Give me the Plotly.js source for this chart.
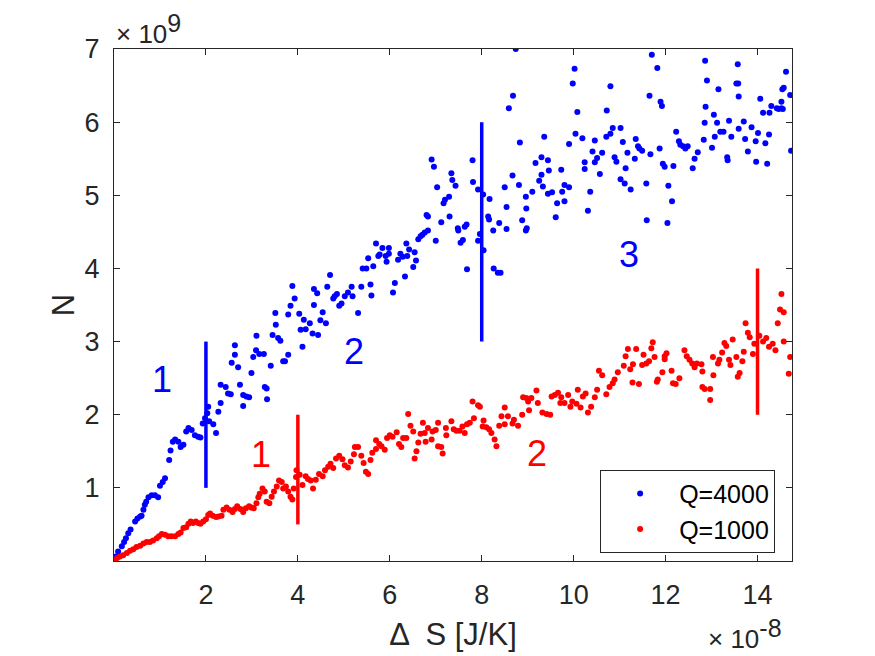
<!DOCTYPE html>
<html>
<head>
<meta charset="utf-8">
<script src="https://cdn.plot.ly/plotly-3.0.1.min.js"></script>
<style>
  html, body { margin: 0; padding: 0; background: #ffffff; }
  #chart { width: 875px; height: 656px; }
</style>
</head>
<body>
<div id="chart"></div>
<script>
// x in units of 1e-8 J/K, y in units of 1e9
const blueX = [0.00,0.04,0.09,0.17,0.22,0.26,0.31,0.36,0.46,0.51,0.57,0.60,0.64,0.67,0.70,0.75,0.82,0.89,0.96,1.00,
  1.06,1.11,1.20,1.23,1.28,1.33,1.40,1.45,1.51,1.57,1.62,1.69,1.76,1.83,1.88,1.93,1.98,2.03,2.07,2.16,
  2.22,2.27,2.05,2.32,2.32,2.43,2.48,2.54,2.56,2.63,2.63,2.70,2.74,2.81,2.81,2.88,2.94,2.99,3.03,3.09,
  3.10,3.16,3.26,3.28,3.32,3.33,3.41,3.45,3.51,3.52,3.57,3.62,3.68,3.72,3.79,3.79,3.84,3.88,3.93,4.03,
  4.06,4.10,4.13,4.17,4.26,4.32,4.35,4.35,4.42,4.44,4.49,4.54,4.61,4.64,4.70,4.77,4.80,4.85,4.90,4.95,
  5.02,5.09,5.17,5.19,5.31,5.38,5.41,5.49,5.53,5.58,5.60,5.64,5.70,5.75,5.78,5.84,5.91,5.93,5.98,5.98,
  6.07,6.11,6.18,6.23,6.28,6.33,6.36,6.38,6.42,6.51,6.54,6.57,6.62,6.67,6.71,6.76,6.83,6.80,6.83,6.91,
  6.96,7.00,7.03,7.12,7.17,7.20,7.29,7.30,7.34,7.36,7.43,7.48,7.49,7.54,7.59,7.63,7.67,7.68,7.80,7.81,
  7.92,7.92,7.96,8.03,8.04,8.14,8.17,8.16,8.25,8.26,8.35,8.41,8.38,8.50,8.54,8.54,8.67,8.81,8.88,8.96,
  8.97,8.96,8.98,9.10,9.17,9.25,9.30,9.33,9.44,9.44,8.74,8.68,8.59,8.83,9.36,10.02,9.98,10.08,10.04,9.90,
  9.46,9.73,9.30,9.80,9.75,9.90,9.64,9.80,9.61,9.53,10.19,10.24,10.24,10.31,10.36,10.41,10.46,10.46,10.51,10.57,
  10.62,10.71,10.72,10.80,10.80,10.85,10.89,10.93,11.02,11.02,11.07,11.11,11.13,11.17,11.24,11.33,11.35,11.40,11.43,11.49,
  11.58,11.59,11.65,11.67,11.70,11.82,11.87,11.89,11.92,11.94,11.98,12.04,12.06,12.14,12.17,12.23,12.29,12.32,12.38,12.43,
  12.48,12.59,12.63,12.70,12.83,12.85,12.86,12.90,12.87,13.01,13.05,13.07,13.12,13.15,13.19,13.26,13.34,13.35,13.38,13.43,
  13.54,13.58,13.57,13.59,13.59,13.70,13.73,13.79,13.87,13.96,13.97,14.01,14.06,14.12,14.17,14.21,14.25,14.26,14.30,14.42,
  14.46,14.52,14.55,14.52,14.54,14.57,14.62,14.71,14.73];
const blueY = [0.01,0.06,0.13,0.20,0.26,0.31,0.38,0.43,0.54,0.58,0.61,0.62,0.70,0.77,0.81,0.87,0.90,0.90,0.87,1.03,
  1.08,1.13,1.38,1.51,1.63,1.66,1.63,1.56,1.59,1.77,1.82,1.79,1.72,1.70,1.69,1.88,1.95,2.02,1.91,1.87,
  1.75,2.04,2.11,2.16,2.41,2.38,2.29,2.28,2.71,2.82,2.95,2.65,2.41,2.27,2.12,2.25,2.24,2.57,2.79,2.88,
  3.08,2.83,2.83,2.38,2.36,2.21,2.67,3.09,3.39,3.23,3.05,3.01,2.73,2.73,3.37,2.82,3.49,3.76,3.59,3.38,
  3.16,2.93,3.30,3.17,3.25,3.11,3.72,3.50,3.66,3.09,3.29,3.40,3.25,3.75,3.91,3.59,3.62,3.65,3.49,3.52,
  3.62,3.67,3.75,3.62,3.39,3.75,4.00,4.00,4.14,3.78,3.63,4.03,4.34,4.17,4.19,4.28,4.17,4.09,4.28,4.20,
  3.67,3.80,4.12,4.20,4.16,3.89,4.34,4.17,4.26,4.02,4.22,4.11,4.40,4.44,4.46,4.49,4.52,4.73,4.71,5.49,
  5.39,4.38,5.11,4.63,4.89,4.94,4.98,4.71,5.30,5.21,5.13,4.55,4.52,4.35,4.39,4.57,4.60,3.99,5.48,5.18,
  5.08,4.38,4.47,5.01,4.25,4.71,4.95,4.67,4.52,4.00,3.94,3.94,4.62,5.11,4.84,4.54,5.27,5.14,4.66,4.98,
  4.82,4.52,4.55,5.05,5.44,5.20,5.52,5.12,5.48,5.02,7.00,6.36,6.19,5.72,5.80,6.73,6.53,6.14,5.84,5.70,
  5.34,5.35,5.28,5.14,5.05,5.11,4.89,4.92,4.70,5.04,5.78,5.45,5.36,4.79,5.05,5.60,5.75,5.45,5.51,5.29,
  5.58,5.80,6.16,6.49,5.84,5.92,5.52,5.46,5.92,5.22,5.73,5.16,5.37,5.58,5.08,5.50,5.77,5.67,5.64,5.61,
  5.16,4.66,6.36,5.56,6.92,6.74,5.64,6.28,6.22,5.43,5.39,4.62,5.13,4.92,5.40,5.87,5.74,5.69,5.67,5.64,
  5.67,5.37,5.50,5.59,5.76,5.99,6.84,6.57,6.21,5.65,6.10,5.80,5.99,6.45,5.87,5.87,5.52,5.48,6.02,5.80,
  6.53,6.53,6.79,6.35,5.91,6.01,5.77,5.60,5.93,5.74,5.46,5.85,6.32,6.13,5.71,5.43,5.83,6.13,6.22,6.19,
  6.18,6.19,6.18,6.28,6.45,6.47,6.69,6.37,5.61];

const redX = [0.00,0.02,0.07,0.13,0.20,0.28,0.35,0.42,0.49,0.57,0.64,0.71,0.78,0.85,0.93,0.98,1.04,1.11,1.18,1.25,
  1.33,1.40,1.45,1.51,1.57,1.62,1.67,1.72,1.78,1.83,1.88,1.94,2.00,2.05,2.09,2.15,2.22,2.27,2.34,2.38,
  2.45,2.51,2.58,2.63,2.68,2.75,2.81,2.87,2.94,2.99,3.04,3.10,3.14,3.17,3.23,3.28,3.32,3.38,3.43,3.48,
  3.54,3.59,3.65,3.68,3.74,3.79,3.84,3.88,3.91,3.96,3.97,4.04,4.10,4.17,4.22,4.28,4.33,4.39,4.46,4.54,
  4.59,4.66,4.71,4.77,4.83,4.90,4.97,5.02,5.09,5.15,5.22,5.24,5.31,5.38,5.43,5.48,5.53,5.58,5.62,5.70,
  5.70,5.77,5.82,5.89,5.94,6.00,6.06,6.15,6.20,6.25,6.29,6.36,6.40,6.45,6.51,6.54,6.58,6.62,6.67,6.72,
  6.76,6.78,6.83,6.91,6.93,7.00,7.05,7.05,7.12,7.15,7.22,7.23,7.34,7.39,7.45,7.52,7.58,7.63,7.68,7.74,
  7.80,7.83,7.92,7.96,8.02,8.04,8.10,8.16,8.21,8.28,8.32,8.38,8.43,8.50,8.50,8.57,8.67,8.70,8.79,8.88,
  8.90,8.97,9.01,9.03,9.08,9.19,9.22,9.32,9.41,9.49,9.52,9.59,9.66,9.71,9.73,9.80,9.88,9.93,9.97,10.06,
  10.09,10.15,10.20,10.26,10.31,10.38,10.46,10.51,10.55,10.62,10.71,10.78,10.85,10.89,10.96,11.09,11.13,11.18,11.23,11.28,
  11.29,11.36,11.42,11.49,11.52,11.58,11.64,11.69,11.72,11.76,11.81,11.83,11.93,11.98,11.98,12.02,12.13,12.16,12.22,12.30,
  12.41,12.46,12.52,12.58,12.63,12.68,12.78,12.80,12.80,12.85,12.97,12.97,13.03,13.04,13.14,13.17,13.23,13.28,13.32,13.38,
  13.41,13.46,13.54,13.57,13.61,13.67,13.70,13.74,13.79,13.83,13.90,13.93,14.04,14.12,14.19,14.25,14.33,14.39,14.44,14.49,
  14.52,14.57,14.57,14.68,14.71];
const redY = [0.00,0.01,0.04,0.06,0.08,0.11,0.14,0.16,0.19,0.21,0.24,0.26,0.26,0.28,0.31,0.34,0.37,0.36,0.34,0.34,
  0.34,0.37,0.39,0.45,0.46,0.51,0.54,0.52,0.54,0.52,0.51,0.54,0.57,0.63,0.65,0.62,0.60,0.61,0.62,0.70,
  0.73,0.70,0.67,0.71,0.75,0.71,0.67,0.72,0.75,0.73,0.72,0.79,0.87,0.92,0.99,0.95,0.81,0.79,0.88,0.95,
  1.02,1.10,1.08,0.99,1.02,0.95,0.88,0.84,0.99,1.15,1.24,1.18,1.04,1.16,1.12,1.10,0.99,1.11,1.19,1.16,
  1.24,1.29,1.33,1.27,1.40,1.44,1.39,1.31,1.28,1.36,1.46,1.56,1.56,1.44,1.34,1.22,1.19,1.38,1.48,1.53,
  1.65,1.60,1.57,1.52,1.68,1.72,1.70,1.76,1.60,1.56,1.68,1.68,2.01,1.85,1.77,1.40,1.50,1.62,1.74,1.89,
  1.75,1.63,1.82,1.66,1.77,1.79,1.89,1.57,1.56,1.47,1.82,1.72,1.91,1.80,1.78,1.78,1.84,1.75,1.87,1.89,
  2.18,1.95,2.13,2.11,1.84,1.92,1.83,1.80,1.75,1.66,1.57,1.85,1.98,2.10,1.87,1.98,1.88,1.93,1.85,2.00,
  2.24,2.23,2.18,2.06,2.23,2.33,2.16,2.03,2.01,2.00,2.25,2.27,2.30,2.16,2.24,2.16,2.27,2.11,2.18,2.15,
  2.34,2.10,2.25,2.29,2.03,2.11,2.24,2.34,2.60,2.54,2.28,2.38,2.43,2.48,2.58,2.67,2.80,2.90,2.62,2.44,
  2.69,2.90,2.42,2.68,2.82,2.70,2.73,2.91,2.99,2.79,2.45,2.48,2.58,2.80,2.76,2.84,2.60,2.43,2.42,2.50,
  2.88,2.80,2.75,2.70,2.65,2.70,2.69,2.59,2.38,2.35,2.35,2.20,2.79,2.54,2.70,2.75,2.85,2.98,2.94,2.75,
  2.68,3.03,2.79,2.52,2.57,2.73,2.86,3.25,3.12,3.06,2.83,2.97,3.08,3.00,3.05,2.93,2.97,2.88,3.25,3.44,
  3.65,3.40,3.00,2.56,2.79];

// vertical region markers
const blueSegX = [2, 8];
const blueSegLo = [1, 3];
const blueSegHi = [3, 6];
const redSegX = [4, 14];
const redSegLo = [0.5, 2];
const redSegHi = [2, 4];

// region labels
const blueLabelText = ['1', '2', '3'];
const blueLabelX = [1.05, 5.22, 11.21];
const blueLabelY = [2.48, 2.87, 4.19];
const redLabelText = ['1', '2'];
const redLabelX = [3.2, 9.21];
const redLabelY = [1.46, 1.47];

const xTicks = [2, 4, 6, 8, 10, 12, 14];
const yTicks = [1, 2, 3, 4, 5, 6, 7];

const BLUE = '#0000ff';
const RED = '#ff0000';
const INK = '#262626';
const FONT = 'Liberation Sans, Arial, Helvetica, sans-serif';

function segTrace(xs, lo, hi, color) {
    const x = [], y = [];
    xs.forEach((v, i) => {
        x.push(v, v, null);
        y.push(lo[i], hi[i], null);
    });
    return {
        x: x, y: y, type: 'scatter', mode: 'lines',
        line: { color: color, width: 3.5 },
        showlegend: false, hoverinfo: 'skip'
    };
}

const traces = [
    {
        x: blueX, y: blueY, type: 'scatter', mode: 'markers', name: 'Q=4000',
        marker: { color: BLUE, size: 6 }
    },
    {
        x: redX, y: redY, type: 'scatter', mode: 'markers', name: 'Q=1000',
        marker: { color: RED, size: 6 }
    },
    segTrace(blueSegX, blueSegLo, blueSegHi, BLUE),
    segTrace(redSegX, redSegLo, redSegHi, RED)
];

const labelAnn = (txt, xs, ys, color) => txt.map((t, i) => ({
    x: xs[i], y: ys[i], xref: 'x', yref: 'y', text: t, showarrow: false,
    font: { family: FONT, size: 36, color: color }
}));

// MATLAB-style exponent labels, superscript kept near full size
const expText = p => '\u00d7 10<sup><span style="font-size:25px">' + p + '</span></sup>';

const annotations = [
    ...labelAnn(blueLabelText, blueLabelX, blueLabelY, BLUE),
    ...labelAnn(redLabelText, redLabelX, redLabelY, RED),
    {
        xref: 'paper', yref: 'paper', x: 0, y: 1, xanchor: 'left', yanchor: 'bottom',
        text: expText('9'), showarrow: false, xshift: 0, yshift: -2,
        font: { family: FONT, size: 26, color: INK }
    },
    {
        xref: 'paper', yref: 'paper', x: 0.988, y: -0.186, xanchor: 'right', yanchor: 'bottom',
        text: expText('-8'), showarrow: false,
        font: { family: FONT, size: 26, color: INK }
    }
];

const axisCommon = {
    showline: true, linecolor: INK, linewidth: 1, mirror: 'ticks',
    ticks: 'inside', ticklen: 6, tickcolor: INK, tickwidth: 1,
    showgrid: false, zeroline: false,
    tickfont: { family: FONT, size: 27, color: INK }
};

const layout = {
    width: 875, height: 656,
    margin: { l: 114, r: 83, t: 49, b: 95 },
    paper_bgcolor: '#ffffff', plot_bgcolor: '#ffffff',
    font: { family: FONT, color: INK },
    xaxis: {
        ...axisCommon, range: [0, 14.75], tickvals: xTicks, ticklabelstandoff: 10,
        title: { text: '\u0394  S [J/K]', font: { family: FONT, size: 31, color: INK }, standoff: 13 }
    },
    yaxis: {
        ...axisCommon, range: [0, 7], tickvals: yTicks, ticklabelstandoff: 8,
        title: { text: 'N', font: { family: FONT, size: 31, color: INK }, standoff: 0 }
    },
    showlegend: true,
    legend: {
        x: 0.717, y: 0.178, xanchor: 'left', yanchor: 'top',
        bgcolor: '#ffffff', bordercolor: INK, borderwidth: 1,
        font: { family: FONT, size: 25, color: '#000000' },
        itemwidth: 68
    },
    annotations: annotations
};

Plotly.newPlot('chart', traces, layout, { displayModeBar: false, staticPlot: true });
</script>
</body>
</html>
